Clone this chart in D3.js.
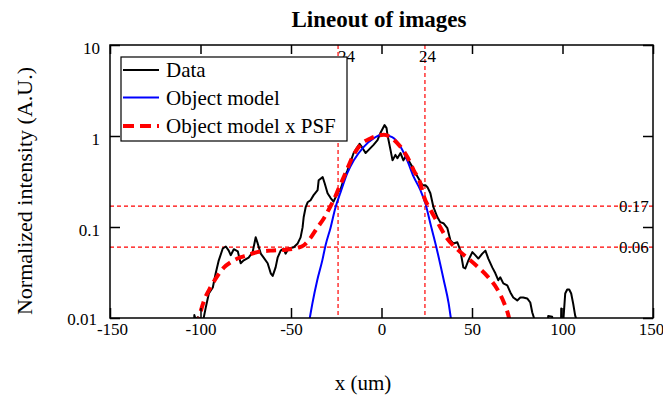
<!DOCTYPE html>
<html>
<head>
<meta charset="utf-8">
<script src="https://cdn.jsdelivr.net/npm/d3@7"></script>
<style>
  html, body { margin: 0; padding: 0; background: #fff; }
  svg { display: block; font-family: "Liberation Serif", "Times New Roman", serif; }
</style>
</head>
<body>
<svg id="chart" width="663" height="412"></svg>
<script>
// Measured lineout: [x (um), normalized intensity]
const dataPts = [
  [-115, 0.005], [-104, 0.005], [-103.4, 0.0108], [-102.6, 0.0095], [-101.6, 0.0102],
  [-99, 0.0096], [-98.2, 0.0101], [-97.1, 0.013], [-95.4, 0.0186], [-93.2, 0.0216],
  [-91.6, 0.031], [-89.9, 0.043], [-87.7, 0.058], [-86.0, 0.061], [-84.4, 0.055],
  [-83.3, 0.049], [-81.6, 0.057], [-79.4, 0.054], [-77.8, 0.040], [-76.1, 0.043],
  [-73.4, 0.046], [-71.2, 0.053], [-69.5, 0.077], [-68.4, 0.066], [-66.7, 0.051],
  [-65.1, 0.046], [-62.9, 0.040], [-61.2, 0.031], [-60.1, 0.029], [-58.5, 0.036],
  [-57.4, 0.046], [-55.7, 0.055], [-54.1, 0.058], [-53.0, 0.051], [-51.3, 0.058],
  [-48.5, 0.060], [-46.3, 0.066], [-44.7, 0.077], [-43.6, 0.099], [-43.0, 0.128],
  [-41.9, 0.165], [-40.8, 0.187], [-39.2, 0.197], [-37.5, 0.224], [-35.3, 0.254],
  [-34.7, 0.327], [-32.5, 0.353], [-31.4, 0.303], [-29.8, 0.235], [-28.1, 0.208],
  [-26.5, 0.190], [-24.3, 0.235], [-22.6, 0.260], [-21.0, 0.327], [-18.8, 0.42],
  [-17.1, 0.52], [-15.4, 0.65], [-13.2, 0.76], [-12.1, 0.82], [-10.5, 0.74],
  [-8.8, 0.65], [-7.2, 0.70], [-4.4, 0.80], [-2.2, 0.90], [-0.6, 1.08],
  [1.7, 1.32], [2.8, 1.22], [3.3, 1.03], [5.0, 0.70], [6.1, 0.54],
  [7.7, 0.62], [8.8, 0.57], [10.5, 0.65], [12.1, 0.54], [13.2, 0.59],
  [14.9, 0.54], [17.1, 0.455], [18.8, 0.39], [20.4, 0.344], [22.6, 0.288],
  [24.3, 0.288], [25.4, 0.274], [27.0, 0.235], [28.7, 0.165], [30.9, 0.128],
  [32.5, 0.113], [34.2, 0.110], [36.4, 0.097], [38.1, 0.071], [39.7, 0.066],
  [41.9, 0.068], [43.6, 0.055], [45.2, 0.036], [46.3, 0.035], [48.0, 0.043],
  [50.2, 0.053], [51.8, 0.049], [53.5, 0.045], [55.7, 0.051], [57.4, 0.055],
  [59.0, 0.045], [61.2, 0.036], [62.9, 0.031], [64.5, 0.026], [65.6, 0.028],
  [67.3, 0.024], [69.5, 0.0228], [71.2, 0.0191], [72.8, 0.0168], [75.0, 0.0156],
  [76.7, 0.0168], [78.3, 0.0168], [80.5, 0.0164], [82.2, 0.0148], [83.3, 0.0115],
  [84.4, 0.0098], [85, 0.005], [91.5, 0.005], [92.1, 0.0105], [94.3, 0.0103],
  [95, 0.005], [99.0, 0.005], [99.3, 0.0127], [99.8, 0.005], [100.4, 0.009],
  [101.5, 0.0186], [102.6, 0.0206], [103.7, 0.0206], [104.8, 0.0186], [105.9, 0.0144],
  [107.0, 0.0106], [107.6, 0.0098], [108.5, 0.005], [150, 0.005]
];

// Object model profile
const modelPts = [
  [-40.5, 0.008], [-39.7, 0.0098], [-38.2, 0.0144], [-35.5, 0.026], [-32.7, 0.043],
  [-30.9, 0.063], [-28.1, 0.099], [-25.4, 0.165], [-22.6, 0.241], [-18.9, 0.39],
  [-15.3, 0.54], [-9.8, 0.76], [-4.2, 0.95], [0.4, 1.03], [5.9, 0.97],
  [10.5, 0.76], [14.2, 0.54], [17.8, 0.355], [21.5, 0.254], [24.3, 0.18],
  [27.0, 0.109], [30.3, 0.06], [34.4, 0.026], [37.1, 0.0145], [38.4, 0.0098],
  [39.5, 0.008]
];

// Object model convolved with the PSF
const psfPts = [
  [-102, 0.008], [-100.8, 0.0101], [-98, 0.0156], [-94.3, 0.022], [-90.6, 0.029],
  [-87.0, 0.036], [-83.3, 0.041], [-79.6, 0.045], [-74.1, 0.049], [-68.6, 0.053],
  [-61.2, 0.055], [-53.9, 0.056], [-46.5, 0.059], [-42.9, 0.063], [-39.2, 0.076],
  [-35.5, 0.098], [-31.8, 0.125], [-28.1, 0.17], [-26.3, 0.20], [-23.5, 0.27],
  [-19.9, 0.39], [-16.2, 0.58], [-11.6, 0.80], [-6.1, 0.94], [1.3, 1.03],
  [5.9, 0.94], [10.5, 0.76], [14.2, 0.59], [17.8, 0.42], [21.5, 0.30],
  [23.3, 0.22], [27.0, 0.155], [30.7, 0.115], [36.2, 0.075], [41.8, 0.057],
  [47.3, 0.046], [52.8, 0.037], [58.3, 0.029], [63.8, 0.021], [67.5, 0.0150],
  [70.2, 0.0105], [71.5, 0.008]
];

// Axis ticks and labels
const xTicks = [-150, -100, -50, 0, 50, 100, 150];
const xTickLabels = ["-150", "-100", "-50", "0", "50", "100", "150"];
const yTicks = [10, 1, 0.1, 0.01];
const yTickLabels = ["10", "1", "0.1", "0.01"];

// Marker lines
const vMarkers = [-24, 24];
const vMarkerLabels = ["24", "24"];
const hMarkers = [0.17, 0.06];
const hMarkerLabels = ["0.17", "0.06"];

const legendItems = ["Data", "Object model", "Object model x PSF"];

const svg = d3.select("#chart");
const plot = { left: 110, right: 653, top: 45, bottom: 318 };

const x = d3.scaleLinear().domain([-150, 150]).range([plot.left, plot.right]);
const y = d3.scaleLog().domain([0.01, 10]).range([plot.bottom, plot.top]);

// title
svg.append("text")
  .attr("x", 379).attr("y", 27)
  .attr("text-anchor", "middle")
  .attr("font-size", 23).attr("font-weight", "bold")
  .text("Lineout of images");

// axis titles
svg.append("text")
  .attr("transform", "translate(32,191) rotate(-90)")
  .attr("text-anchor", "middle")
  .attr("font-size", 22)
  .text("Normalized intensity (A.U.)");

svg.append("text")
  .attr("x", 363).attr("y", 390)
  .attr("text-anchor", "middle")
  .attr("font-size", 21)
  .text("x (um)");

svg.append("clipPath").attr("id", "plotClip")
  .append("rect")
  .attr("x", plot.left).attr("y", plot.top)
  .attr("width", plot.right - plot.left).attr("height", plot.bottom - plot.top);

const g = svg.append("g").attr("clip-path", "url(#plotClip)");

// marker lines
g.selectAll("line.hm").data(hMarkers).enter().append("line")
  .attr("x1", plot.left).attr("x2", plot.right)
  .attr("y1", d => y(d)).attr("y2", d => y(d))
  .attr("stroke", "#ff0000").attr("stroke-width", 1.2)
  .attr("stroke-dasharray", "4,3");

g.selectAll("line.vm").data(vMarkers).enter().append("line")
  .attr("x1", d => x(d)).attr("x2", d => x(d))
  .attr("y1", plot.top).attr("y2", plot.bottom)
  .attr("stroke", "#ff0000").attr("stroke-width", 1.2)
  .attr("stroke-dasharray", "4,3");

const line = d3.line().x(d => x(d[0])).y(d => y(d[1]));
const smooth = d3.line().x(d => x(d[0])).y(d => y(d[1])).curve(d3.curveMonotoneX);

g.append("path").datum(dataPts)
  .attr("d", line)
  .attr("fill", "none").attr("stroke", "#000").attr("stroke-width", 2)
  .attr("stroke-linejoin", "round");

g.append("path").datum(modelPts)
  .attr("d", smooth)
  .attr("fill", "none").attr("stroke", "#0000ff").attr("stroke-width", 2);

g.append("path").datum(psfPts)
  .attr("d", smooth)
  .attr("fill", "none").attr("stroke", "#ff0000").attr("stroke-width", 4)
  .attr("stroke-dasharray", "10,6");

// marker labels
svg.selectAll("text.hml").data(hMarkers).enter().append("text")
  .attr("x", 619).attr("y", d => y(d)).attr("dy", "0.36em")
  .attr("font-size", 17)
  .text((d, i) => hMarkerLabels[i]);

svg.selectAll("text.vml").data(vMarkers).enter().append("text")
  .attr("x", (d, i) => x(d) + (i === 0 ? 0 : -6)).attr("y", 62)
  .attr("font-size", 17)
  .text((d, i) => vMarkerLabels[i]);

// axes: labels outside, tick marks pointing inward
const fmtX = d => xTickLabels[xTicks.indexOf(d)];
const fmtY = d => yTickLabels[yTicks.indexOf(d)];

const axB = svg.append("g").attr("transform", `translate(0,${plot.bottom})`)
  .call(d3.axisBottom(x).tickValues(xTicks).tickFormat(fmtX)
    .tickSizeInner(-10).tickSizeOuter(0).tickPadding(5));
axB.selectAll("text").attr("dy", "0.71em");
axB.selectAll(".tick").filter(d => d === 150).select("text").attr("dx", "-2");
axB.selectAll(".tick").filter(d => d === -150).select("text").attr("dx", "2");

svg.append("g").attr("transform", `translate(0,${plot.top})`)
  .call(d3.axisTop(x).tickValues(xTicks).tickFormat("")
    .tickSizeInner(-9).tickSizeOuter(0));

const axL = svg.append("g").attr("transform", `translate(${plot.left},0)`)
  .call(d3.axisLeft(y).tickValues(yTicks).tickFormat(fmtY)
    .tickSizeInner(-10).tickSizeOuter(0).tickPadding(10));
axL.selectAll("text").attr("dy", "0.5em");
axL.selectAll(".tick").filter(d => d === 0.01).select("text")
  .attr("dy", "0.38em").attr("dx", "-3");

svg.append("g").attr("transform", `translate(${plot.right},0)`)
  .call(d3.axisRight(y).tickValues(yTicks).tickFormat("")
    .tickSizeInner(-10).tickSizeOuter(0));

svg.selectAll(".domain").remove();
svg.selectAll(".tick line").attr("stroke", "#000").attr("stroke-width", 1.5);
svg.selectAll(".tick text")
  .attr("font-family", "Liberation Serif, serif")
  .attr("font-size", 17).attr("fill", "#000");

// frame
svg.append("rect")
  .attr("x", plot.left).attr("y", plot.top)
  .attr("width", plot.right - plot.left).attr("height", plot.bottom - plot.top)
  .attr("fill", "none").attr("stroke", "#000").attr("stroke-width", 1.5);

// legend
const lg = svg.append("g");
lg.append("rect")
  .attr("x", 121).attr("y", 57).attr("width", 226).attr("height", 84)
  .attr("fill", "#fff").attr("stroke", "#000").attr("stroke-width", 1.2);
const legendStyles = [
  { color: "#000", width: 2, dash: null },
  { color: "#0000ff", width: 2, dash: null },
  { color: "#ff0000", width: 4, dash: "11,6" }
];
const rowY = [70, 97.5, 126];
legendItems.forEach((label, i) => {
  const s = legendStyles[i];
  const ln = lg.append("line")
    .attr("x1", 123).attr("x2", 159)
    .attr("y1", rowY[i]).attr("y2", rowY[i])
    .attr("stroke", s.color).attr("stroke-width", s.width);
  if (s.dash) ln.attr("stroke-dasharray", s.dash);
  lg.append("text")
    .attr("x", 166).attr("y", rowY[i] + 7)
    .attr("font-size", 21)
    .text(label);
});
</script>
</body>
</html>
